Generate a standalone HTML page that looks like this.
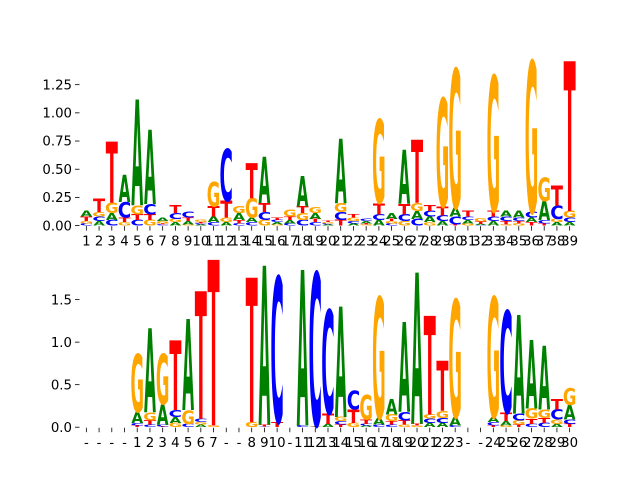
<!DOCTYPE html>
<html><head><meta charset="utf-8"><style>
html,body{margin:0;padding:0;background:#fff;}
svg{display:block;}
.tick{font-family:"DejaVu Sans","Liberation Sans",sans-serif;font-size:13.3px;fill:#000;}
</style></head><body>
<svg id="chart" width="640" height="480" viewBox="0 0 640 480">
<g id="top-panel"></g>
<g id="bottom-panel"></g>
</svg>
<script>
// ---- top panel data ----
const topLabels = ["1","2","3","4","5","6","7","8","9","10","11","12","13","14","15","16","17","18","19","20","21","22","23","24","25","26","27","28","29","30","31","32","33","34","35","36","37","38","39"];
const topA = [.05,.04,.06,.24,.94,.66,.03,.03,.03,.01,.05,.03,.06,.04,.41,.02,.03,.27,.05,.01,.57,.02,.02,.05,.05,.48,.07,.05,.04,.08,.03,.01,.04,.05,.06,.04,.17,.03,.03];
const topC = [.02,.04,.05,.14,.05,.09,.01,.05,.05,.01,.03,.46,.02,.03,.07,.02,.02,.05,.03,.01,.07,.02,.02,.05,.02,.06,.06,.05,.05,.07,.03,.005,.04,.04,.03,.05,.03,.12,.04];
const topG = [.02,.04,.09,.03,.08,.05,.02,.03,.01,.02,.22,.04,.06,.17,.05,.01,.06,.06,.05,.01,.08,.03,.01,.74,.02,.04,.07,.03,.96,1.23,.02,.03,1.2,.01,.02,1.34,.21,.03,.06];
const topT = [.04,.12,.54,.04,.05,.05,.01,.07,.03,.01,.09,.15,.03,.31,.08,.02,.03,.06,.03,.01,.05,.03,.01,.1,.02,.09,.56,.05,.08,.01,.05,.02,.05,.03,.02,.03,.02,.18,1.33];
const topTicks = [0,0.25,0.5,0.75,1.0,1.25];
const topTickLabels = ["0.00","0.25","0.50","0.75","1.00","1.25"];
// ---- bottom panel data ----
const botLabels = ["-","-","-","-","1","2","3","4","5","6","7","-","-","8","9","10","-","11","12","13","14","15","16","17","18","19","20","21","22","23","-","-","24","25","26","27","28","29","30"];
const botA = [0,0,0,0,.13,.99,.24,.07,1.07,.03,0,0,0,0,1.87,0,0,1.83,.01,.04,1.3,0,.02,.08,.18,1.06,1.78,.05,.05,.1,0,0,.06,.05,1.16,.8,.75,.04,.17];
const botC = [0,0,0,0,.03,.03,.02,.08,.04,.04,0,0,0,0,.01,1.71,0,.02,1.8,1.22,.04,.22,.02,.03,.03,.1,0,.05,.06,.02,0,0,.04,1.2,.08,.04,.05,.12,.05];
const botG = [0,0,0,0,.68,.09,.59,.05,.16,.03,.02,0,0,.06,0,0,0,0,0,0,.05,.05,.29,1.42,.08,.03,.02,.05,.08,1.38,0,0,1.41,.02,.05,.12,.1,.05,.2];
const botT = [0,0,0,0,.02,.05,.01,.82,0,1.5,1.95,0,0,1.7,.02,.06,0,0,.01,.12,.03,.16,.05,0,.04,.05,.02,1.16,.59,0,0,0,.02,.1,.03,.06,.06,.12,.04];
const botTicks = [0,0.5,1.0,1.5];
const botTickLabels = ["0.0","0.5","1.0","1.5"];

const NS = "http://www.w3.org/2000/svg";
const colors = {A:"#008000", C:"#0000ff", G:"#ffa500", T:"#ff0000"};
const inkW = {A:77, C:64, G:71, T:66};

function drawPanel(g, cfg) {
  const {labels, A, C, G, T, ticks, tickLabels, top, bottom, ymax, name} = cfg;
  const left = 80, right = 576;
  const n = labels.length;
  const step = (right - left) / n;
  const xS = i => left + (i + 0.5) * step;
  const yS = v => bottom - v / ymax * (bottom - top);
  ticks.forEach((t, k) => {
    const y = yS(t);
    const ln = document.createElementNS(NS, "line");
    ln.setAttribute("x1", left - 5); ln.setAttribute("x2", left - 0.5);
    ln.setAttribute("y1", y); ln.setAttribute("y2", y);
    ln.setAttribute("stroke", "#000"); ln.setAttribute("stroke-width", "0.8");
    
    
    g.appendChild(ln);
    const tx = document.createElementNS(NS, "text");
    tx.setAttribute("x", left - 8); tx.setAttribute("y", y + 4.7);
    tx.setAttribute("text-anchor", "end"); tx.setAttribute("class", "tick");
    tx.textContent = tickLabels[k];
    
    
    g.appendChild(tx);
  });
  labels.forEach((lab, i) => {
    const x = xS(i);
    const ln = document.createElementNS(NS, "line");
    ln.setAttribute("x1", x); ln.setAttribute("x2", x);
    ln.setAttribute("y1", bottom + 0.5); ln.setAttribute("y2", bottom + 5);
    ln.setAttribute("stroke", "#000"); ln.setAttribute("stroke-width", "0.8");
    
    
    g.appendChild(ln);
    const tx = document.createElementNS(NS, "text");
    tx.setAttribute("x", x); tx.setAttribute("y", bottom + 20);
    tx.setAttribute("text-anchor", "middle"); tx.setAttribute("class", "tick");
    tx.textContent = lab;
    
    
    g.appendChild(tx);
  });
  const w = step * 0.92;
  labels.forEach((lab, i) => {
    const col = [["A", A[i]], ["C", C[i]], ["G", G[i]], ["T", T[i]]].filter(d => d[1] > 0);
    col.sort((a, b) => a[1] - b[1]);
    let base = 0;
    col.forEach(([L, v]) => {
      const y0 = yS(base), y1 = yS(base + v);
      const h = y0 - y1;
      const t = document.createElementNS(NS, "text");
      t.setAttribute("x", 0); t.setAttribute("y", 0);
      t.setAttribute("text-anchor", "middle");
      t.setAttribute("font-family", "DejaVu Sans, Liberation Sans, sans-serif");
      t.setAttribute("font-weight", "bold");
      t.setAttribute("font-size", "100");
      t.setAttribute("fill", colors[L]);
      t.setAttribute("transform", `translate(${xS(i)},${y0}) scale(${w / inkW[L]},${h / 73})`);
      t.textContent = L;
      
      
      g.appendChild(t);
      base += v;
    });
  });
}

drawPanel(document.getElementById("top-panel"), {labels: topLabels, A: topA, C: topC, G: topG, T: topT,
  ticks: topTicks, tickLabels: topTickLabels, top: 57.6, bottom: 225.6, ymax: 1.49, name: "top"});
drawPanel(document.getElementById("bottom-panel"), {labels: botLabels, A: botA, C: botC, G: botG, T: botT,
  ticks: botTicks, tickLabels: botTickLabels, top: 259.2, bottom: 427.2, ymax: 1.975, name: "bottom"});
</script>
</body></html>
